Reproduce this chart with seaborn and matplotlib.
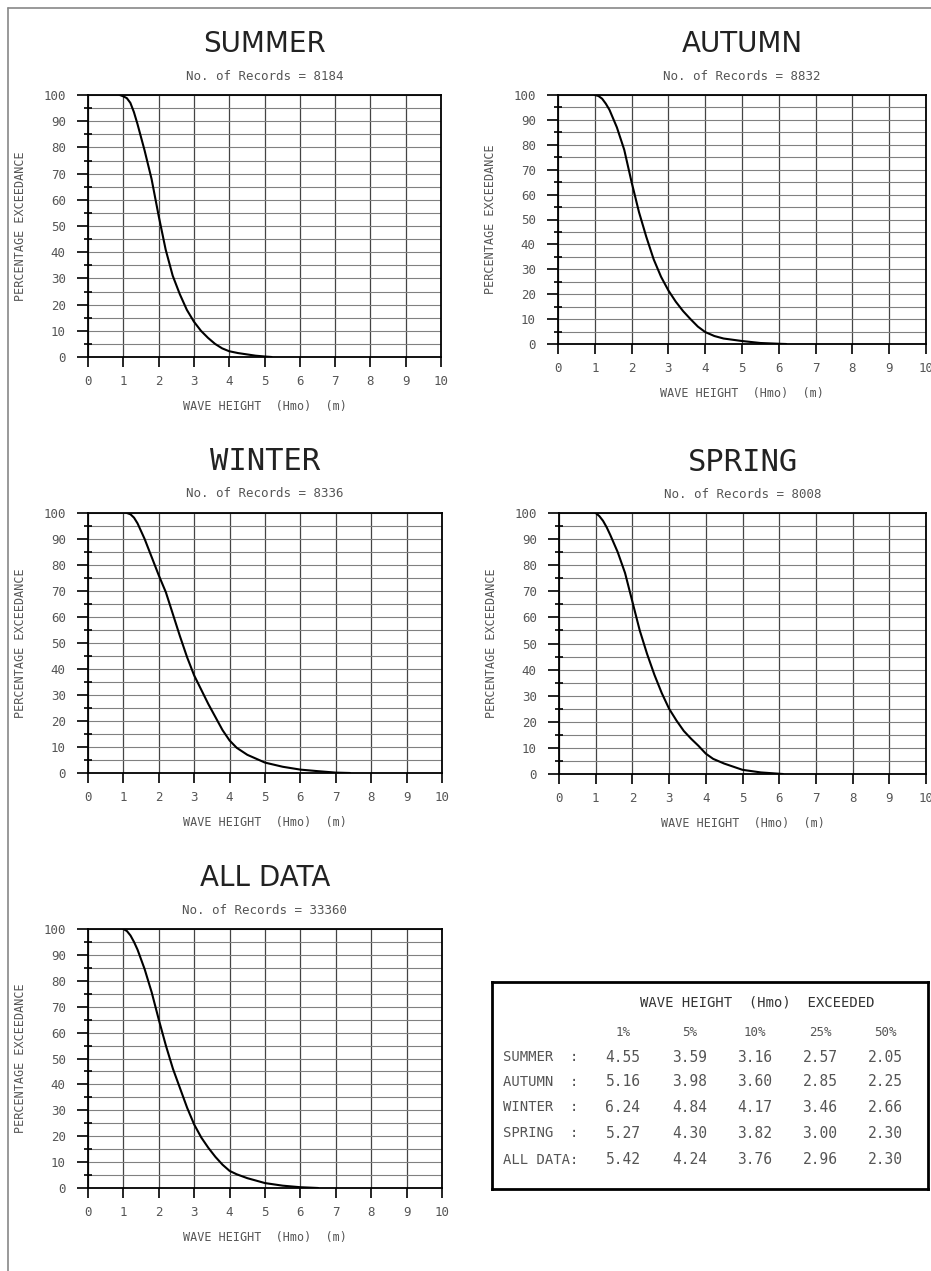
import matplotlib
matplotlib.use("Agg")
import matplotlib.pyplot as plt
from matplotlib.lines import Line2D
from matplotlib.ticker import MultipleLocator
import seaborn as sns

# Seasons and record counts
seasons = ["SUMMER", "AUTUMN", "WINTER", "SPRING", "ALL DATA"]
records = [8184, 8832, 8336, 8008, 33360]

# Exceedance curves: wave height (m) vs % exceedance
summer_h = [0.9, 1.0, 1.1, 1.2, 1.3, 1.4, 1.6, 1.8, 2.0, 2.2, 2.4, 2.6, 2.8, 3.0, 3.2, 3.4, 3.6, 3.8, 4.0, 4.25, 4.5, 4.75, 5.0, 5.2]
summer_p = [100, 99.5, 98.8, 97, 93.5, 89, 79, 68, 54, 41, 31, 24, 18, 13.5, 10, 7.3, 5, 3.3, 2.2, 1.5, 1, 0.5, 0.2, 0]

autumn_h = [1.0, 1.1, 1.2, 1.3, 1.4, 1.6, 1.8, 2.0, 2.2, 2.4, 2.6, 2.8, 3.0, 3.2, 3.4, 3.6, 3.8, 4.0, 4.25, 4.5, 5.0, 5.5, 6.0, 6.2]
autumn_p = [100, 99.6, 98.5, 96.5, 94, 87, 78, 65, 53, 43, 34, 27, 21.5, 17, 13.2, 10, 7, 4.8, 3.2, 2.2, 1.2, 0.4, 0.1, 0]

winter_h = [1.1, 1.2, 1.3, 1.4, 1.6, 1.8, 2.0, 2.2, 2.4, 2.6, 2.8, 3.0, 3.2, 3.4, 3.6, 3.8, 4.0, 4.2, 4.5, 5.0, 5.5, 6.0, 6.5, 7.0, 7.4]
winter_p = [100, 99.5, 98.2, 96, 90, 83, 76, 69.5, 61, 52.5, 44.5, 37.5, 32, 26.5, 21.5, 16.5, 12.5, 9.7, 7, 4, 2.4, 1.3, 0.7, 0.15, 0]

spring_h = [1.0, 1.1, 1.2, 1.3, 1.4, 1.6, 1.8, 2.0, 2.2, 2.4, 2.6, 2.8, 3.0, 3.2, 3.4, 3.6, 3.8, 4.0, 4.2, 4.5, 5.0, 5.5, 6.0, 6.1]
spring_p = [100, 98.8, 97, 94.5, 91.5, 85, 77, 66, 55, 46, 38, 31, 25, 20.5, 16.5, 13.5, 10.8, 7.8, 5.8, 4.0, 1.6, 0.6, 0.1, 0]

alldata_h = [1.0, 1.1, 1.2, 1.3, 1.4, 1.6, 1.8, 2.0, 2.2, 2.4, 2.6, 2.8, 3.0, 3.2, 3.4, 3.6, 3.8, 4.0, 4.2, 4.5, 5.0, 5.5, 6.0, 6.5]
alldata_p = [100, 99.2, 97.5, 95, 92, 84.5, 75.5, 65, 55, 46, 38.5, 31, 24.5, 19.5, 15.5, 12, 9, 6.6, 5.3, 3.8, 1.9, 0.9, 0.3, 0]

# Summary table: wave height exceeded
pct_cols = ["1%", "5%", "10%", "25%", "50%"]
row_labels = ["SUMMER  :", "AUTUMN  :", "WINTER  :", "SPRING  :", "ALL DATA:"]
summer_ex = [4.55, 3.59, 3.16, 2.57, 2.05]
autumn_ex = [5.16, 3.98, 3.60, 2.85, 2.25]
winter_ex = [6.24, 4.84, 4.17, 3.46, 2.66]
spring_ex = [5.27, 4.30, 3.82, 3.00, 2.30]
alldata_ex = [5.42, 4.24, 3.76, 2.96, 2.30]

sns.set_theme(style="white")
plt.rcParams["font.family"] = ["DejaVu Sans"]

W, H = 931, 1271
fig = plt.figure(figsize=(W / 100, H / 100), dpi=100)

def box(l, t, r, b):
    return [l / W, 1 - b / H, (r - l) / W, (b - t) / H]

# axes boxes in pixels (left, top, right, bottom)
boxes = [(88, 95, 441, 357), (558, 95, 926, 344), (88, 513, 442, 773),
         (559, 513, 926, 774), (88, 929, 442, 1188)]
curves = [(summer_h, summer_p), (autumn_h, autumn_p), (winter_h, winter_p),
          (spring_h, spring_p), (alldata_h, alldata_p)]
title_fonts = [("DejaVu Sans", 20), ("DejaVu Sans", 20), ("DejaVu Sans Mono", 22),
               ("DejaVu Sans Mono", 22), ("DejaVu Sans", 20)]
mono = "DejaVu Sans Mono"
grey = "#555555"

panels = []
for i, name in enumerate(seasons):
    l, t, r, b = boxes[i]
    ax = fig.add_axes(box(l, t, r, b))
    h, p = curves[i]
    sns.lineplot(x=h, y=p, ax=ax, color="black", lw=1.5, zorder=3)
    ax.set_xlim(0, 10)
    ax.set_ylim(0, 100)
    ax.xaxis.set_major_locator(MultipleLocator(1))
    ax.yaxis.set_major_locator(MultipleLocator(10))
    ax.yaxis.set_minor_locator(MultipleLocator(5))
    ax.grid(True, axis="x", which="major", color="#444444", lw=0.9)
    ax.grid(True, axis="y", which="both", color="#808080", lw=0.8)
    ax.set_axisbelow("line")
    for s in ax.spines.values():
        s.set_color("black")
        s.set_linewidth(1.3)
    ax.set_xlabel("WAVE HEIGHT  (Hmo)  (m)", fontsize=8.5, color=grey, fontfamily=mono)
    ax.set_ylabel("PERCENTAGE EXCEEDANCE", fontsize=8.5, color=grey, fontfamily=mono)
    ax.xaxis.set_label_coords(0.5, -43 / (b - t))
    ax.yaxis.set_label_coords(-61 / (r - l), 0.5)
    fam, size = title_fonts[i]
    ax.annotate(name, xy=(0.5, 1), xycoords="axes fraction", xytext=(0, 51),
                textcoords="offset pixels", ha="center", va="center",
                fontsize=size, fontfamily=fam, color="#222222")
    ax.annotate(f"No. of Records = {records[i]}", xy=(0.5, 1), xycoords="axes fraction",
                xytext=(0, 19), textcoords="offset pixels", ha="center", va="center",
                fontsize=9, fontfamily=mono, color=grey)
    panels.append(ax)

# summary table
tax = fig.add_axes(box(492, 982, 928, 1189))
tax.set_xlim(492, 928)
tax.set_ylim(1189, 982)
tax.set_xticks([])
tax.set_yticks([])
for s in tax.spines.values():
    s.set_color("black")
    s.set_linewidth(2)
col_x = [623, 690, 755, 820, 885]
row_y = [1057, 1082, 1107, 1133, 1160]
tax.text(757, 1003, "WAVE HEIGHT  (Hmo)  EXCEEDED", ha="center", va="center",
         fontsize=10, fontfamily=mono, color="#333333")
for x, c in zip(col_x, pct_cols):
    tax.text(x, 1032, c, ha="center", va="center", fontsize=9, fontfamily=mono, color=grey)
table_rows = [summer_ex, autumn_ex, winter_ex, spring_ex, alldata_ex]
for y, lab, vals in zip(row_y, row_labels, table_rows):
    tax.text(503, y, lab, ha="left", va="center", fontsize=10, fontfamily=mono, color=grey)
    for x, v in zip(col_x, vals):
        tax.text(x, y, f"{v:.2f}", ha="center", va="center", fontsize=10.5,
                 fontfamily=mono, color=grey)

# page frame
fig.add_artist(Line2D([8 / W, 8 / W], [0, 1 - 8 / H], transform=fig.transFigure,
                      color="#888888", lw=1.2))
fig.add_artist(Line2D([8 / W, 1], [1 - 8 / H, 1 - 8 / H], transform=fig.transFigure,
                      color="#888888", lw=1.2))

# tick styling applied last
for ax in panels:
    ax.tick_params(axis="x", which="major", direction="out", length=7, width=1.2,
                   color="black", pad=6, labelsize=9, labelcolor=grey, bottom=True)
    ax.tick_params(axis="y", which="major", direction="out", length=8, width=1.2,
                   color="black", pad=8, labelsize=9, labelcolor=grey, left=True)
    ax.tick_params(axis="y", which="minor", direction="inout", length=6, width=1.2,
                   color="black", left=True)
    for lab in ax.get_xticklabels() + ax.get_yticklabels():
        lab.set_fontfamily(mono)

fig.savefig("out.png", dpi=100)
